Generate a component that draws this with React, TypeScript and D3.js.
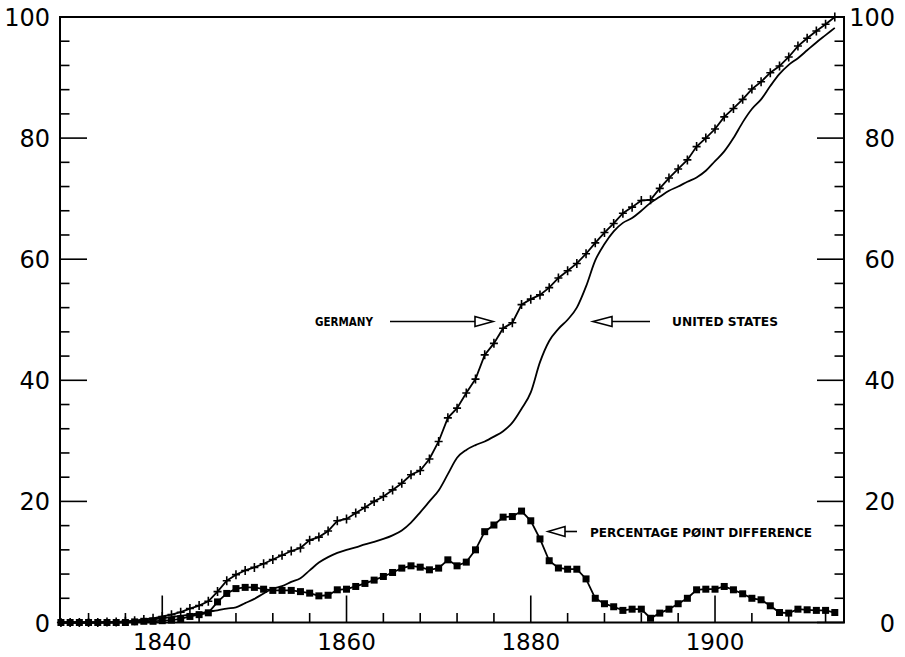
import React from "react";
import * as d3 from "d3";

const years = [
  1829, 1830, 1831, 1832, 1833, 1834, 1835, 1836, 1837, 1838, 1839,
  1840, 1841, 1842, 1843, 1844, 1845, 1846, 1847, 1848, 1849,
  1850, 1851, 1852, 1853, 1854, 1855, 1856, 1857, 1858, 1859,
  1860, 1861, 1862, 1863, 1864, 1865, 1866, 1867, 1868, 1869,
  1870, 1871, 1872, 1873, 1874, 1875, 1876, 1877, 1878, 1879,
  1880, 1881, 1882, 1883, 1884, 1885, 1886, 1887, 1888, 1889,
  1890, 1891, 1892, 1893, 1894, 1895, 1896, 1897, 1898, 1899,
  1900, 1901, 1902, 1903, 1904, 1905, 1906, 1907, 1908, 1909,
  1910, 1911, 1912, 1913,
];

const germany = [
  0, 0, 0, 0, 0, 0.1, 0.1, 0.2, 0.3, 0.5, 0.7,
  1.0, 1.3, 1.7, 2.3, 2.8, 3.5, 5.1, 6.9, 7.9, 8.6,
  9.1, 9.7, 10.4, 11.1, 11.8, 12.3, 13.6, 14.1, 15.1, 16.8,
  17.1, 18.1, 19.0, 20.0, 20.8, 21.9, 23.0, 24.4, 25.1, 27.0,
  29.9, 33.8, 35.4, 37.9, 40.2, 44.2, 46.1, 48.6, 49.5, 52.5,
  53.4, 54.1, 55.3, 56.9, 58.1, 59.3, 60.9, 62.7, 64.4, 65.9,
  67.6, 68.6, 69.7, 69.8, 71.7, 73.4, 74.9, 76.4, 78.6, 80.0,
  81.5, 83.5, 84.9, 86.4, 88.1, 89.3, 90.8, 91.9, 93.4, 95.2,
  96.5, 97.7, 98.8, 100,
];

const unitedStates = [
  0, 0, 0, 0, 0, 0, 0.05, 0.1, 0.2, 0.3, 0.5,
  0.7, 0.9, 1.1, 1.3, 1.5, 1.8, 2.0, 2.3, 2.5, 3.2,
  3.9, 4.8, 5.6, 6.0, 6.7, 7.3, 8.6, 9.9, 10.8, 11.5,
  12.0, 12.4, 12.9, 13.3, 13.8, 14.4, 15.2, 16.5, 18.2, 20.0,
  21.8, 24.5, 27.2, 28.5, 29.3, 29.9, 30.7, 31.6, 33.0, 35.3,
  38.0, 43.0, 46.5, 48.5, 50.0, 52.0, 55.5, 59.8, 62.5, 64.6,
  66.0, 66.8, 68.0, 69.3, 70.3, 71.3, 72.0, 72.8, 73.5, 74.6,
  76.2, 77.8, 80.0, 82.6, 84.8, 86.4, 88.6, 90.6, 92.1, 93.2,
  94.5, 95.8, 97.0, 98.2,
];

const difference = [
  0, 0, 0, 0, 0, 0, 0, 0, 0.1, 0.2, 0.2,
  0.3, 0.4, 0.6, 1.0, 1.3, 1.6, 3.4, 4.8, 5.6, 5.8,
  5.8, 5.5, 5.3, 5.3, 5.3, 5.1, 4.85, 4.4, 4.5, 5.4,
  5.5, 5.95, 6.45, 7.0, 7.6, 8.26, 8.98, 9.36, 9.14, 8.7,
  8.98, 10.35, 9.36, 9.97, 12.0, 15.0, 16.1, 17.4, 17.5, 18.4,
  16.8, 13.8, 10.2, 9.0, 8.8, 8.8, 7.2, 4.0, 3.1, 2.6,
  2.0, 2.2, 2.2, 0.7, 1.55, 2.2, 3.1, 4.0, 5.4, 5.5,
  5.5, 5.95, 5.4, 4.74, 4.0, 3.75, 2.76, 1.65, 1.55, 2.2,
  2.1, 2.0, 2.0, 1.65,
];

const xMajorTicks = [1840, 1860, 1880, 1900];
const xMinorTicks = [1832, 1836, 1844, 1848, 1852, 1856, 1864, 1868, 1872, 1876, 1884, 1888, 1892, 1896, 1904, 1908, 1912];
const yMajorTicks = [0, 20, 40, 60, 80, 100];
const yMinorTicks = [4, 8, 12, 16, 24, 28, 32, 36, 44, 48, 52, 56, 64, 68, 72, 76, 84, 88, 92, 96];

const labelGermany = "GERMANY";
const labelUS = "UNITED STATES";
const labelDiff = "PERCENTAGE PØINT DIFFERENCE";

const W = 905;
const H = 657;
const L = 60;
const R = 844;
const T = 17;
const B = 622.5;

export default function App() {
  const x = d3.scaleLinear().domain([1828.9, 1914]).range([L, R]);
  const y = d3.scaleLinear().domain([0, 100]).range([B, T]);

  const gData = years.map((yr, i) => [yr, germany[i]] as [number, number]);
  const uData = years.map((yr, i) => [yr, unitedStates[i]] as [number, number]);
  const dData = years.map((yr, i) => [yr, difference[i]] as [number, number]);

  const lin = d3.line<[number, number]>().x((d) => x(d[0])).y((d) => y(d[1]));
  const smooth = d3
    .line<[number, number]>()
    .x((d) => x(d[0]))
    .y((d) => y(d[1]))
    .curve(d3.curveMonotoneX);

  const font = "'DejaVu Sans', sans-serif";
  const majorLen = 27;
  const minorLen = 9.5;

  const arrowRight = (x1: number, x2: number, yy: number) => {
    const hl = 18;
    const hh = 5;
    return (
      <g>
        <line x1={x1} x2={x2 - hl} y1={yy} y2={yy} stroke="#000" strokeWidth={1.6} />
        <path
          d={`M${x2},${yy} L${x2 - hl},${yy - hh} L${x2 - hl},${yy + hh} Z`}
          fill="#fff"
          stroke="#000"
          strokeWidth={1.6}
        />
      </g>
    );
  };
  const arrowLeft = (tip: number, x2: number, yy: number, hl = 18) => {
    const hh = 5;
    return (
      <g>
        <line x1={tip + hl} x2={x2} y1={yy} y2={yy} stroke="#000" strokeWidth={1.6} />
        <path
          d={`M${tip},${yy} L${tip + hl},${yy - hh} L${tip + hl},${yy + hh} Z`}
          fill="#fff"
          stroke="#000"
          strokeWidth={1.6}
        />
      </g>
    );
  };

  return (
    <svg
      width={W}
      height={H}
      style={{ position: "absolute", left: 0, top: 0, background: "#fff" }}
      fontFamily={font}
    >
      <rect x={0} y={0} width={W} height={H} fill="#fff" />
      {/* frame */}
      <rect x={L} y={T} width={R - L} height={B - T} fill="none" stroke="#000" strokeWidth={2} />

      {/* x ticks */}
      {xMajorTicks.map((t) => (
        <g key={"xM" + t}>
          <line x1={x(t)} x2={x(t)} y1={B} y2={B - majorLen} stroke="#000" strokeWidth={1.6} />
          <text x={x(t)} y={650} fontSize={23} textAnchor="middle" fill="#000">
            {t}
          </text>
        </g>
      ))}
      {xMinorTicks.map((t) => (
        <line key={"xm" + t} x1={x(t)} x2={x(t)} y1={B} y2={B - minorLen} stroke="#000" strokeWidth={1.6} />
      ))}

      {/* y ticks */}
      {yMajorTicks.map((t) => (
        <g key={"yM" + t}>
          <line x1={L} x2={L + majorLen} y1={y(t)} y2={y(t)} stroke="#000" strokeWidth={1.6} />
          <line x1={R} x2={R - majorLen} y1={y(t)} y2={y(t)} stroke="#000" strokeWidth={1.6} />
          <text x={50} y={y(t) + 9} fontSize={24} textAnchor="end" fill="#000">
            {t}
          </text>
          <text x={895} y={y(t) + 9} fontSize={24} textAnchor="end" fill="#000">
            {t}
          </text>
        </g>
      ))}
      {yMinorTicks.map((t) => (
        <g key={"ym" + t}>
          <line x1={L} x2={L + minorLen} y1={y(t)} y2={y(t)} stroke="#000" strokeWidth={1.6} />
          <line x1={R} x2={R - minorLen} y1={y(t)} y2={y(t)} stroke="#000" strokeWidth={1.6} />
        </g>
      ))}

      {/* series */}
      <path d={smooth(uData) || ""} fill="none" stroke="#000" strokeWidth={1.8} />
      <path d={lin(gData) || ""} fill="none" stroke="#000" strokeWidth={1.8} />
      {gData.map((d, i) => (
        <path
          key={"g" + i}
          d={`M${x(d[0]) - 4},${y(d[1])} h8 M${x(d[0])},${y(d[1]) - 4.5} v9`}
          stroke="#000"
          strokeWidth={1.6}
        />
      ))}
      <path d={lin(dData) || ""} fill="none" stroke="#000" strokeWidth={1.8} />
      {dData.map((d, i) => (
        <rect key={"d" + i} x={x(d[0]) - 3.5} y={y(d[1]) - 3.5} width={7} height={7} fill="#000" />
      ))}

      {/* annotations */}
      <text x={315} y={326} fontSize={12} fontWeight="bold" textLength={58} lengthAdjust="spacingAndGlyphs">
        {labelGermany}
      </text>
      {arrowRight(390, 493, 321.5)}
      <text x={672} y={326} fontSize={12} fontWeight="bold" textLength={106} lengthAdjust="spacingAndGlyphs">
        {labelUS}
      </text>
      {arrowLeft(593, 650, 321.5, 19)}
      <text x={590} y={537} fontSize={12} fontWeight="bold" textLength={222} lengthAdjust="spacingAndGlyphs">
        {labelDiff}
      </text>
      {arrowLeft(548, 577, 531.5, 17)}
    </svg>
  );
}
